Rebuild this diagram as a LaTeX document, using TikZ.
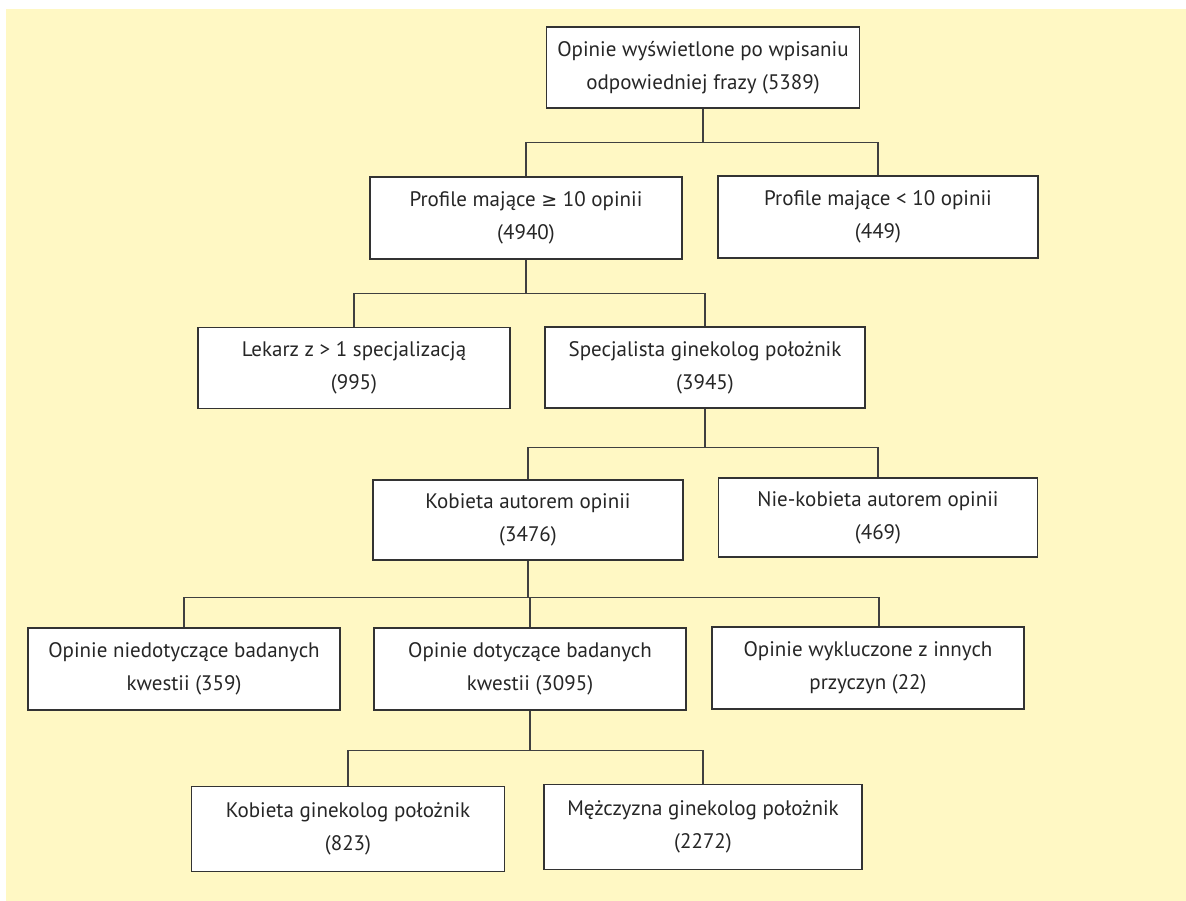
\documentclass[tikz,border=0pt]{standalone}
\usepackage{fontspec}
\setmainfont{PT Sans}
\newfontfamily\znaki{DejaVu Sans}
\definecolor{tlo}{RGB}{255,248,196}
\tikzset{
  pole/.style={draw=black!80, line width=1.3pt, fill=white, minimum width=312pt,
    minimum height=82pt, align=center, text=black!85, inner sep=2pt,
    font=\fontsize{21}{33}\selectfont},
  linia/.style={draw=black!75, line width=1.3pt}
}

\begin{document}
\begin{tikzpicture}[x=1pt, y=-1pt]
		\useasboundingbox (0,0) rectangle (1186,901);
		\fill[tlo] (6,9) rectangle (1186,901);
		
		% poziom 1 i 2
		\node[pole, minimum width=313pt, minimum height=81pt] (wszystkie) at (703,67.5) {Opinie wyświetlone po wpisaniu\\odpowiedniej frazy (5389)};
		\node[pole] (ponad10) at (526,218) {Profile mające {\znaki\fontsize{19}{33}\selectfont ≥} 10 opinii\\(4940)};
		\node[pole, minimum width=320pt] (ponizej10) at (878,217) {Profile mające < 10 opinii\\(449)};
		
		% poziom 3
		\node[pole, minimum height=81pt] (lekarz) at (354,368) {Lekarz z > 1 specjalizacją\\(995)};
		\node[pole, minimum width=320pt, minimum height=81pt] (specjalista) at (705,367.5) {Specjalista ginekolog położnik\\(3945)};
		
		% poziom 4
		\node[pole, minimum width=310pt, minimum height=80pt] (kobieta) at (528,520) {Kobieta autorem opinii\\(3476)};
		\node[pole, minimum width=319pt, minimum height=79pt] (niekobieta) at (878,517.5) {Nie-kobieta autorem opinii\\(469)};
		
		% poziom 5
		\node[pole] (niedot) at (184,669) {Opinie niedotyczące badanych\\kwestii (359)};
		\node[pole] (dot) at (530,669) {Opinie dotyczące badanych\\kwestii (3095)};
		\node[pole] (wykl) at (868,668) {Opinie wykluczone z innych\\przyczyn (22)};
		
		% poziom 6
		\node[pole, minimum width=313pt, minimum height=85pt] (kgin) at (348,829) {Kobieta ginekolog położnik\\(823)};
		\node[pole, minimum width=318pt, minimum height=85pt] (mgin) at (703,827) {Mężczyzna ginekolog położnik\\(2272)};
		
		% linie
		\draw[linia] (wszystkie.south) -- ++(0,34) coordinate (w1);
		\draw[linia] (ponad10.north) |- (w1) -| (ponizej10.north);
		\draw[linia] (ponad10.south) -- ++(0,34) coordinate (w2);
		\draw[linia] (lekarz.north) |- (w2) -| (specjalista.north);
		\draw[linia] (specjalista.south) -- ++(0,39) coordinate (w3);
		\draw[linia] (kobieta.north) |- (w3) -| (niekobieta.north);
		\draw[linia] (kobieta.south) -- ++(0,37) coordinate (w4);
		\draw[linia] (niedot.north) |- (w4) -| ([xshift=11pt]wykl.north);
		\draw[linia] (dot.north |- w4) -- (dot.north);
		\draw[linia] (dot.south) -- ++(0,40) coordinate (w5);
		\draw[linia] (kgin.north) |- (w5) -| (mgin.north);
\end{tikzpicture}
\end{document}
